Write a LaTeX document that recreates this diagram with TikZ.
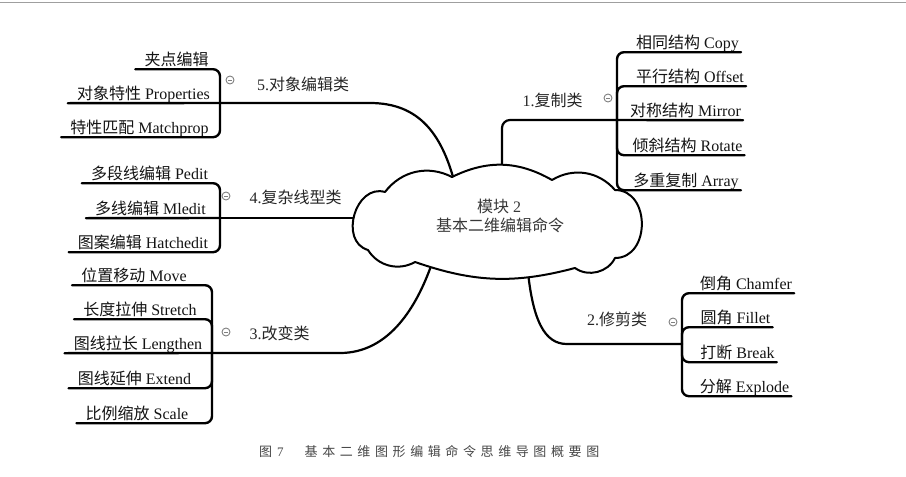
\documentclass[tikz,border=0pt]{standalone}
\usepackage{fontspec}
\setmainfont{Liberation Serif}
\newfontfamily\cjk{Noto Sans CJK SC}
\usetikzlibrary{backgrounds}
\newcommand\ck[1]{{\cjk #1}}
\tikzset{
  branch/.style={line width=2.2pt, line cap=round},
  leafline/.style={line width=2.4pt, rounded corners=7pt, line cap=round},
  leaftext/.style={inner ysep=0pt, text height=11pt, text depth=3.5pt, anchor=base,
    font=\fontsize{16}{19}\selectfont, text=black!92},
  leafL/.style={leaftext, inner xsep=9pt},
  leafR/.style={leaftext, inner xsep=2pt},
  blabel/.style={font=\fontsize{16}{19}\selectfont, text=black!85, inner sep=0pt},
  collapse/.style={circle, draw=gray, line width=0.9pt, minimum size=8pt, inner sep=0pt,
    path picture={\draw[gray, line width=0.9pt]
      ([xshift=-2pt]path picture bounding box.center) -- ([xshift=2pt]path picture bounding box.center);}},
  cloudline/.style={line width=2pt, fill=white, line join=round},
  cloudtext/.style={font=\fontsize{16}{19}\selectfont, text=black!78, inner sep=0pt},
  caption/.style={font=\fontsize{13}{16}\selectfont, text=black!72, inner sep=0pt},
  topline/.style={gray!75, line width=1.6pt}
}
\newcommand\leafleft[5]{\node[leafL] (#1) at (#3,#4-3.5) {#5};
  \draw[leafline] (#2) |- (#1.south west);}
\newcommand\leafright[5]{\node[leafR] (#1) at (#3,#4-3.5) {#5};
  \draw[leafline] (#2) |- (#1.south east);}
\begin{document}
\begin{tikzpicture}[x=1pt,y=-1pt]
\useasboundingbox (0,0) rectangle (906,477);
\draw[topline] (0,2.5) -- (906,2.5);

% junctions and cloud entry points
\coordinate (J1) at (617,120);
\coordinate (J2) at (682,344);
\coordinate (J3) at (212,353);
\coordinate (J4) at (220,218);
\coordinate (J5) at (220,103);
\coordinate (e1) at (502,180);
\coordinate (e2) at (527,262);
\coordinate (e3) at (431,266);
\coordinate (e4) at (372,218);
\coordinate (e5) at (456,188);

% cloud
\draw[cloudline] (368,250) to[bend left=90, looseness=1.3] (385,192)
  to[bend left=40] (452,177) to[bend left=28] (552,180)
  to[bend left=40] (615,190) to[bend left=90, looseness=1.35] (615,258)
  to[bend left=50] (575,268) to[bend left=17] (415,262)
  to[bend left=44] (368,250) -- cycle;
\node[cloudtext] (m1) at (499,206) {\ck{模块} 2};
\node[cloudtext] (m2) at (500,225) {\ck{基本二维编辑命令}};

\begin{scope}[on background layer]
  \fill[white] (0,0) rectangle (906,477);
  \draw[branch, rounded corners=8pt] (e1) |- (J1);
  \draw[branch] (e2) .. controls (532,322) and (545,344) .. (567,344) -- (J2);
  \draw[branch] (J3) -- (340,353) .. controls (390,353) and (417,305) .. (e3);
  \draw[branch] (e4) -- (J4);
  \draw[branch] (e5) .. controls (443,135) and (420,103) .. (370,103) -- (J5);
\end{scope}

% branch labels and collapse marks
\node[blabel] (b5) at (303,84) {5.\ck{对象编辑类}};
\node[collapse] (c5) at (230,80) {};
\node[blabel] (b4) at (295.5,197) {4.\ck{复杂线型类}};
\node[collapse] (c4) at (226,196) {};
\node[blabel] (b3) at (279.5,333) {3.\ck{改变类}};
\node[collapse] (c3) at (226,332) {};
\node[blabel] (b1) at (552.5,100) {1.\ck{复制类}};
\node[collapse] (c1) at (608,98) {};
\node[blabel] (b2) at (617,319) {2.\ck{修剪类}};
\node[collapse] (c2) at (673,322) {};

% group 5
\leafleft{l51}{J5}{176.5}{69}{\ck{夹点编辑}}
\node[leafL] (l52) at (143.5,99.5) {\ck{对象特性} Properties};
\draw[leafline] (J5) -- (l52.south west);
\leafleft{l53}{J5}{139.5}{137}{\ck{特性匹配} Matchprop}

% group 4
\leafleft{l41}{J4}{149.5}{183}{\ck{多段线编辑} Pedit}
\node[leafL] (l42) at (150.5,214.5) {\ck{多线编辑} Mledit};
\draw[leafline] (J4) -- (l42.south west);
\leafleft{l43}{J4}{143}{252}{\ck{图案编辑} Hatchedit}

% group 3
\leafleft{l31}{J3}{134}{285}{\ck{位置移动} Move}
\leafleft{l32}{J3}{140}{319}{\ck{长度拉伸} Stretch}
\node[leafL] (l33) at (138,349.5) {\ck{图线拉长} Lengthen};
\draw[leafline] (J3) -- (l33.south west);
\leafleft{l34}{J3}{134.5}{388}{\ck{图线延伸} Extend}
\leafleft{l35}{J3}{137}{423}{\ck{比例缩放} Scale}

% group 1
\leafright{l11}{J1}{687.5}{52}{\ck{相同结构} Copy}
\leafright{l12}{J1}{690}{86}{\ck{平行结构} Offset}
\node[leafR] (l13) at (685.5,116.5) {\ck{对称结构} Mirror};
\draw[leafline] (J1) -- (l13.south east);
\leafright{l14}{J1}{687.5}{155}{\ck{倾斜结构} Rotate}
\leafright{l15}{J1}{686}{190}{\ck{多重复制} Array}

% group 2
\leafright{l21}{J2}{746}{293}{\ck{倒角} Chamfer}
\leafright{l22}{J2}{735.5}{327}{\ck{圆角} Fillet}
\leafright{l23}{J2}{737.5}{362}{\ck{打断} Break}
\leafright{l24}{J2}{744.5}{396}{\ck{分解} Explode}

% caption
\node[caption, anchor=west] (cap) at (259,452) {\ck{图}\kern5pt 7\kern21pt\ck{基\kern4.6pt 本\kern4.6pt 二\kern4.6pt 维\kern4.6pt 图\kern4.6pt 形\kern4.6pt 编\kern4.6pt 辑\kern4.6pt 命\kern4.6pt 令\kern4.6pt 思\kern4.6pt 维\kern4.6pt 导\kern4.6pt 图\kern4.6pt 概\kern4.6pt 要\kern4.6pt 图}};
\end{tikzpicture}
\end{document}
